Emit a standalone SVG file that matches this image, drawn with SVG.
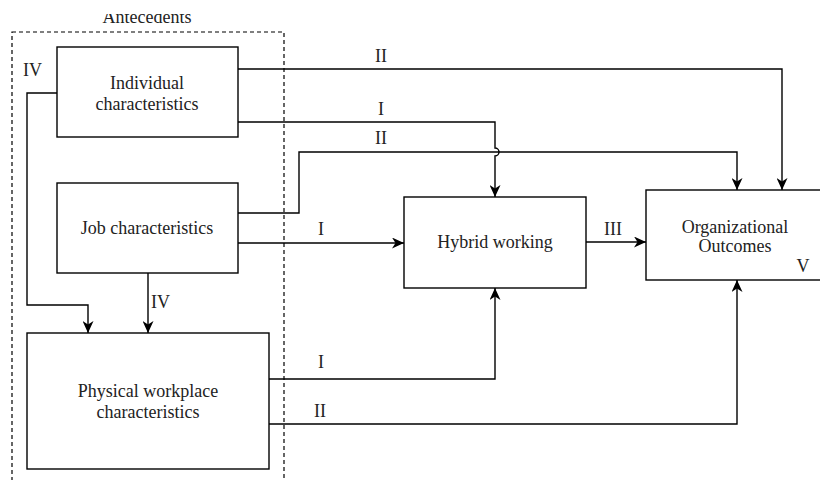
<svg xmlns="http://www.w3.org/2000/svg" width="820" height="480" viewBox="0 0 820 480">
<defs>
<style>
.box{fill:#fff;stroke:#000;stroke-width:1.4}
.t{font-family:"Liberation Serif","Times New Roman",serif;font-size:18px;fill:#222;text-anchor:middle}
.l{font-family:"Liberation Serif","Times New Roman",serif;font-size:18px;fill:#222}
.c{fill:none;stroke:#000;stroke-width:1.4}
</style>
<marker id="arr" viewBox="0 0 13 11" refX="12" refY="5.5" markerWidth="13" markerHeight="11" markerUnits="userSpaceOnUse" orient="auto">
<path d="M0,0 L12,5.5 L0,11 L3.5,5.5 Z" fill="#000"/>
</marker>
<clipPath id="topclip"><rect x="0" y="14" width="820" height="466"/></clipPath>
</defs>
<rect width="820" height="480" fill="#fff"/>
<g id="antecedents">
<rect x="12" y="32" width="272" height="460" fill="none" stroke="#000" stroke-width="1.2" stroke-dasharray="4,3"/>
<text class="t" x="147" y="23" clip-path="url(#topclip)">Antecedents</text>
</g>
<g id="connectors">
<polyline class="c" points="238,69 782,69 782,190" marker-end="url(#arr)"/>
<path class="c" d="M238,122 L495,122 L495,148 A4,4 0 0 1 495,156 L495,197" marker-end="url(#arr)"/>
<polyline class="c" points="238,213 299,213 299,152 737,152 737,190" marker-end="url(#arr)"/>
<polyline class="c" points="238,243 404,243" marker-end="url(#arr)"/>
<polyline class="c" points="586,242 646,242" marker-end="url(#arr)"/>
<polyline class="c" points="269,379 495,379 495,288" marker-end="url(#arr)"/>
<polyline class="c" points="269,424 737,424 737,280" marker-end="url(#arr)"/>
<polyline class="c" points="57,93 27,93 27,305 88,305 88,333" marker-end="url(#arr)"/>
<polyline class="c" points="148,273 148,333" marker-end="url(#arr)"/>
<text class="t" x="381" y="62">II</text>
<text class="t" x="381" y="115">I</text>
<text class="t" x="381" y="144">II</text>
<text class="t" x="321" y="235">I</text>
<text class="t" x="613" y="235">III</text>
<text class="t" x="321" y="368">I</text>
<text class="t" x="320" y="417">II</text>
<text class="l" x="151" y="308">IV</text>
<text class="l" x="23" y="76">IV</text>
</g>
<g id="individual">
<rect class="box" x="57" y="47" width="181" height="90"/>
<text class="t" x="147" y="89">Individual</text>
<text class="t" x="147" y="110">characteristics</text>
</g>
<g id="job">
<rect class="box" x="57" y="183" width="181" height="90"/>
<text class="t" x="147" y="234">Job characteristics</text>
</g>
<g id="physical">
<rect class="box" x="27" y="333" width="242" height="136"/>
<text class="t" x="148" y="397">Physical workplace</text>
<text class="t" x="148" y="418">characteristics</text>
</g>
<g id="hybrid">
<rect class="box" x="404" y="197" width="182" height="91"/>
<text class="t" x="495" y="248">Hybrid working</text>
</g>
<g id="outcomes">
<rect class="box" x="646" y="190" width="177" height="90"/>
<text class="t" x="735" y="233">Organizational</text>
<text class="t" x="735" y="252">Outcomes</text>
<text class="t" x="803" y="272">V</text>
</g>
</svg>
